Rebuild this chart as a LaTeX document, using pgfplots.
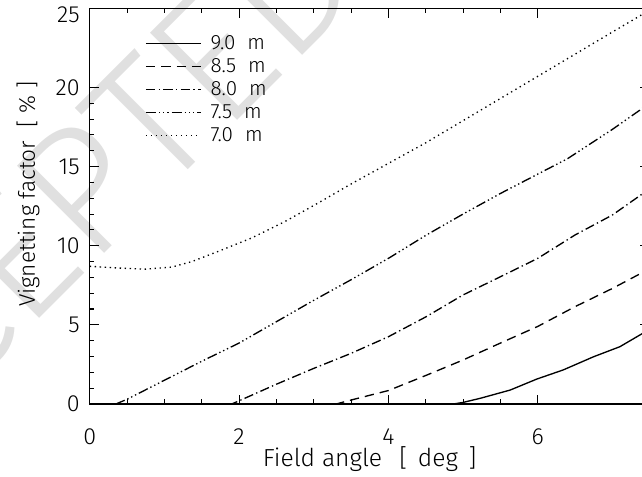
\documentclass[border=0pt]{standalone}
\usepackage{fontspec}
\setmainfont{Fira Sans Light}
\usepackage{pgfplots}
\pgfplotsset{compat=1.18}

\begin{document}
\begin{tikzpicture}
% watermark behind the axis
\node[rotate=45,text=black!12,inner sep=0pt,
      font=\fontsize{135}{135}\selectfont] at (-30pt,137pt) {ACCEPTED};
\begin{axis}[
  scale only axis,width=420pt,height=296.8pt,
  xmin=0,xmax=7.5,ymin=0,ymax=25,
  xtick={0,2,4,6},minor x tick num=3,
  ytick={0,5,10,15,20},minor y tick num=4,
  extra y ticks={25},
  extra y tick style={yticklabel style={yshift=-5pt}},
  major tick length=7pt,minor tick length=3.5pt,
  tick style={black,line width=0.8pt},
  axis line style={line width=1pt},
  /pgf/number format/assume math mode=true,
  tick label style={font=\fontsize{17.5}{17.5}\selectfont},
  xticklabel style={yshift=-15pt},
  yticklabel style={xshift=-4pt},
  xlabel={Field angle\hspace{13pt}[\hspace{8pt}deg\hspace{8pt}]},
  ylabel={Vignetting factor\hspace{10pt}[\hspace{5pt}\%\hspace{5pt}]},
  xlabel style={font=\fontsize{18.5}{18.5}\selectfont,
    at={(axis description cs:0.5,-0.138)},anchor=center},
  ylabel style={font=\fontsize{17}{17}\selectfont,
    at={(axis description cs:-0.11,0.53)},anchor=center},
  legend style={at={(axis cs:0.74,23.3)},anchor=north west,draw=none,fill=none,
    font=\fontsize{15.5}{15.5}\selectfont,inner sep=0pt,row sep=5.3pt,
    nodes={inner sep=0pt}},
  legend cell align=left,
  legend image code/.code={\draw[#1] (0pt,0pt) -- (41pt,0pt);},
  every axis plot/.append style={line width=1pt,black},
]
\addplot[solid] coordinates {
 (0,0) (4.87,0) (5.0,0.1) (5.23,0.36) (5.63,0.88) (5.99,1.58) (6.34,2.15)
 (6.75,2.99) (7.1,3.62) (7.39,4.42) (7.5,4.72)};
\addlegendentry{\hspace*{7pt}9.0\hspace{9pt}m}
\addplot[dash pattern=on 7pt off 4.5pt] coordinates {
 (0,0) (3.3,0) (3.5,0.25) (4.0,0.85) (4.5,1.8) (5.0,2.78) (5.5,3.85)
 (6.0,4.9) (6.5,6.15) (7.0,7.3) (7.5,8.55)};
\addlegendentry{\hspace*{7pt}8.5\hspace{9pt}m}
\addplot[dash pattern=on 7pt off 2.5pt on 1pt off 2.5pt] coordinates {
 (0,0) (1.9,0) (2.0,0.2) (2.5,1.25) (3.0,2.25) (3.5,3.2) (4.0,4.25)
 (4.5,5.5) (5.0,6.89) (5.5,8.04) (6.0,9.2) (6.5,10.68) (7.0,11.94) (7.5,13.6)};
\addlegendentry{\hspace*{7pt}8.0\hspace{9pt}m}
\addplot[dash pattern=on 7.5pt off 2.2pt on 1pt off 2.2pt on 1pt off 2.2pt on 1pt off 2.2pt] coordinates {
 (0,0) (0.35,0) (0.5,0.3) (1.0,1.5) (1.5,2.7) (2.0,3.85) (2.5,5.2) (3.0,6.55)
 (3.5,7.85) (4.0,9.2) (4.5,10.65) (5.0,12.0) (5.5,13.3) (5.95,14.4) (6.4,15.5)
 (7.0,17.35) (7.5,19.0)};
\addlegendentry{\hspace*{7pt}7.5\hspace{9pt}m}
\addplot[dash pattern=on 1pt off 2.75pt] coordinates {
 (0,8.7) (0.38,8.59) (0.74,8.52) (1.1,8.65) (1.37,9.0) (1.72,9.64) (2.17,10.49)
 (2.62,11.54) (3.06,12.7) (3.5,13.9) (4.0,15.2) (4.5,16.5) (5.0,17.9) (5.5,19.3)
 (6.0,20.7) (6.5,22.1) (7.0,23.5) (7.35,24.47) (7.5,24.9)};
\addlegendentry{\hspace*{7pt}7.0\hspace{9pt}m}
\end{axis}
\pgfresetboundingbox
\useasboundingbox (-67.3pt,-54pt) rectangle (414.2pt,303pt);
\end{tikzpicture}
\end{document}
